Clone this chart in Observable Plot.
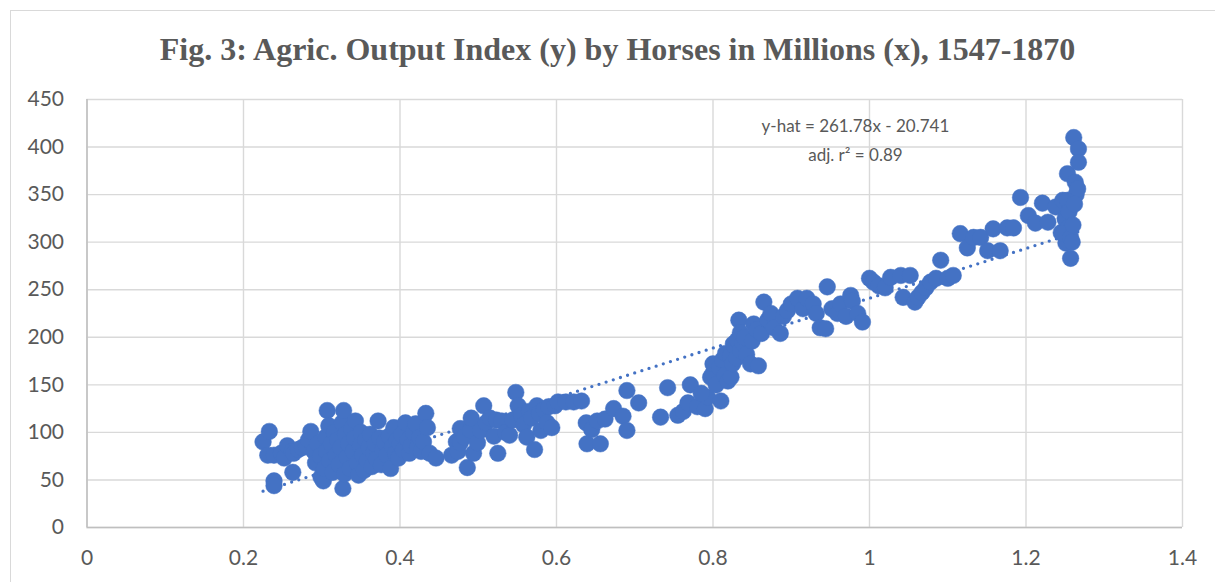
<!DOCTYPE html>
<html><head><meta charset="utf-8">
<script src="https://cdn.jsdelivr.net/npm/d3@7"></script>
<script src="https://cdn.jsdelivr.net/npm/@observablehq/plot@0.6"></script>
<style>
html,body{margin:0;padding:0;background:#fff;overflow:hidden;}
#wrap{position:relative;width:1215px;height:582px;overflow:hidden;}
#border{position:absolute;left:10px;top:10px;width:1230px;height:600px;border:1px solid #d9d9d9;}
#title{position:absolute;left:10px;width:1215px;top:33px;line-height:32px;text-align:center;font-family:"Liberation Serif","Times New Roman",serif;font-weight:bold;font-size:32px;color:#595959;white-space:nowrap;}
#chart{position:absolute;left:0;top:0;}
</style></head>
<body><div id="wrap"><div id="border"></div><div id="chart"></div><div id="title"></div></div>
<script>
const titleText = "Fig. 3: Agric. Output Index (y) by Horses in Millions (x), 1547-1870";
const equationLines = ["y-hat = 261.78x - 20.741", "adj. r² = 0.89"];
const slope = 261.78, intercept = -20.741;
const xTicks = [0, 0.2, 0.4, 0.6, 0.8, 1, 1.2, 1.4];
const yTicks = [0, 50, 100, 150, 200, 250, 300, 350, 400, 450];

const horses = [
0.225,0.233,0.231,0.239,0.239,0.239,0.248,0.252,0.256,0.262,0.264,0.263,0.27,0.275,0.28,0.283,0.286,0.29,0.292,0.295,0.298,0.299,
0.302,0.303,0.305,0.306,0.307,0.309,0.31,0.312,0.314,0.316,0.318,0.32,0.322,0.324,0.326,0.327,0.328,0.329,0.33,0.332,0.334,0.336,0.338,0.34,
0.342,0.343,0.345,0.347,0.349,0.35,0.352,0.354,0.356,0.358,0.36,0.362,0.364,0.366,0.368,0.37,0.372,0.374,0.376,0.378,0.38,0.383,0.386,0.388,
0.39,0.392,0.394,0.396,0.398,0.4,0.402,0.404,0.407,0.41,0.412,0.414,0.417,0.42,0.422,0.425,0.427,0.43,0.433,0.435,0.438,0.446,
0.466,0.472,0.474,0.477,0.477,0.482,0.486,0.49,0.491,0.494,0.499,0.503,0.507,0.51,0.515,0.52,0.523,0.525,0.53,0.535,0.54,0.544,0.548,0.551,
0.555,0.558,0.562,0.565,0.568,0.572,0.575,0.578,0.58,0.584,0.588,0.59,0.594,0.598,
0.602,0.612,0.622,0.632,0.638,0.639,0.645,0.652,0.656,0.662,0.673,0.685,0.69,0.69,0.705,0.733,0.742,0.755,0.762,0.768,0.771,0.78,0.79,0.793,0.785,
0.797,0.8,0.8,0.804,0.808,0.81,0.812,0.815,0.816,0.819,0.822,0.823,0.825,0.826,0.828,0.83,0.831,0.833,0.835,0.835,0.838,0.84,0.843,0.848,0.85,
0.852,0.856,0.858,0.862,0.865,0.87,0.874,0.878,0.886,0.89,0.895,0.9,0.908,0.915,0.92,0.928,0.932,0.937,0.944,0.946,0.952,0.959,0.963,0.97,
0.976,0.978,0.985,0.991,
1.0,1.005,1.012,1.02,1.027,1.04,1.043,1.052,1.058,1.062,1.067,1.072,1.078,1.085,1.091,1.1,1.107,1.116,1.125,1.133,1.142,1.151,1.158,1.167,
1.176,1.184,1.193,1.203,1.212,1.221,1.228,1.238,1.245,1.247,1.25,1.251,1.251,1.253,1.253,1.254,1.248,1.255,1.257,1.259,1.257,1.26,1.261,
1.263,1.264,1.266,1.267,1.267,1.262
];
const output = [
90,101,76,76,49,44,78,73,86,80,78,58,82,84,86,92,101,80,68,88,75,53,
49,62,95,80,123,107,70,88,58,100,76,92,66,84,110,41,123,56,98,74,88,62,104,80,
94,112,68,55,86,100,76,60,92,70,84,98,64,78,88,72,112,94,66,82,90,76,96,62,
85,105,78,92,73,88,98,82,110,92,78,86,100,109,84,95,80,90,120,105,78,73,
76,90,80,104,89,95,63,102,115,78,89,102,128,110,115,96,113,78,112,100,97,113,142,128,
118,108,95,122,115,82,128,120,102,124,110,127,105,128,
132,132,132,133,110,88,103,112,88,114,125,117,144,102,131,116,147,118,122,131,150,127,125,137,141,
158,162,172,150,168,133,176,160,183,154,180,158,172,193,190,178,197,218,186,205,194,200,182,172,196,
214,208,170,204,237,218,225,210,204,222,228,235,241,230,241,235,225,210,209,253,230,225,235,222,
244,238,225,216,
262,258,254,252,263,265,242,265,237,242,247,252,258,262,281,262,265,309,294,305,305,291,314,291,
315,315,347,328,320,341,321,337,310,344,325,323,299,372,344,315,309,332,305,300,283,318,410,
363,350,356,398,384,340
];

document.getElementById("title").textContent = titleText;
const data = horses.map((x, i) => ({x, y: output[i]}));
const xmin = d3.min(horses), xmax = d3.max(horses);
const trend = [xmin, xmax].map(x => ({x, y: slope * x + intercept}));
const eq = equationLines.map((t, i) => ({t, i}));

const chart = Plot.plot({
  width: 1215, height: 582,
  marginLeft: 86.5, marginRight: 33, marginTop: 99, marginBottom: 55,
  x: {domain: [0, 1.4], label: null},
  y: {domain: [0, 450], label: null},
  style: {fontFamily: "Lato, sans-serif", fontSize: "21px", color: "#595959", background: "transparent", overflow: "visible"},
  marks: [
    Plot.gridX(xTicks, {stroke: "#d9d9d9", strokeOpacity: 1, strokeWidth: 1.4}),
    Plot.gridY(yTicks, {stroke: "#d9d9d9", strokeOpacity: 1, strokeWidth: 1.4}),
    Plot.ruleX([0], {stroke: "#bfbfbf", strokeWidth: 1.5}),
    Plot.ruleY([0], {stroke: "#bfbfbf", strokeWidth: 1.5}),
    Plot.axisX(xTicks, {tickSize: 0, tickPadding: 23, tickFormat: d => String(d), fill: "#595959", label: null}),
    Plot.axisY(yTicks, {tickSize: 0, tickPadding: 23, tickFormat: d => String(d), fill: "#595959", label: null}),
    Plot.line(trend, {x: "x", y: "y", stroke: "#4472C4", strokeWidth: 3.3, strokeDasharray: "0 7.5", strokeLinecap: "round"}),
    Plot.dot(data, {x: "x", y: "y", r: 8.3, fill: "#4472C4", stroke: "#4472C4", strokeWidth: 0.5}),
    Plot.text(eq, {x: () => 0.982, y: d => d.i === 0 ? 421.5 : 391, text: "t", fontSize: 17, fill: "#595959", textAnchor: "middle"})
  ]
});
document.getElementById("chart").appendChild(chart);
</script>
</body></html>
